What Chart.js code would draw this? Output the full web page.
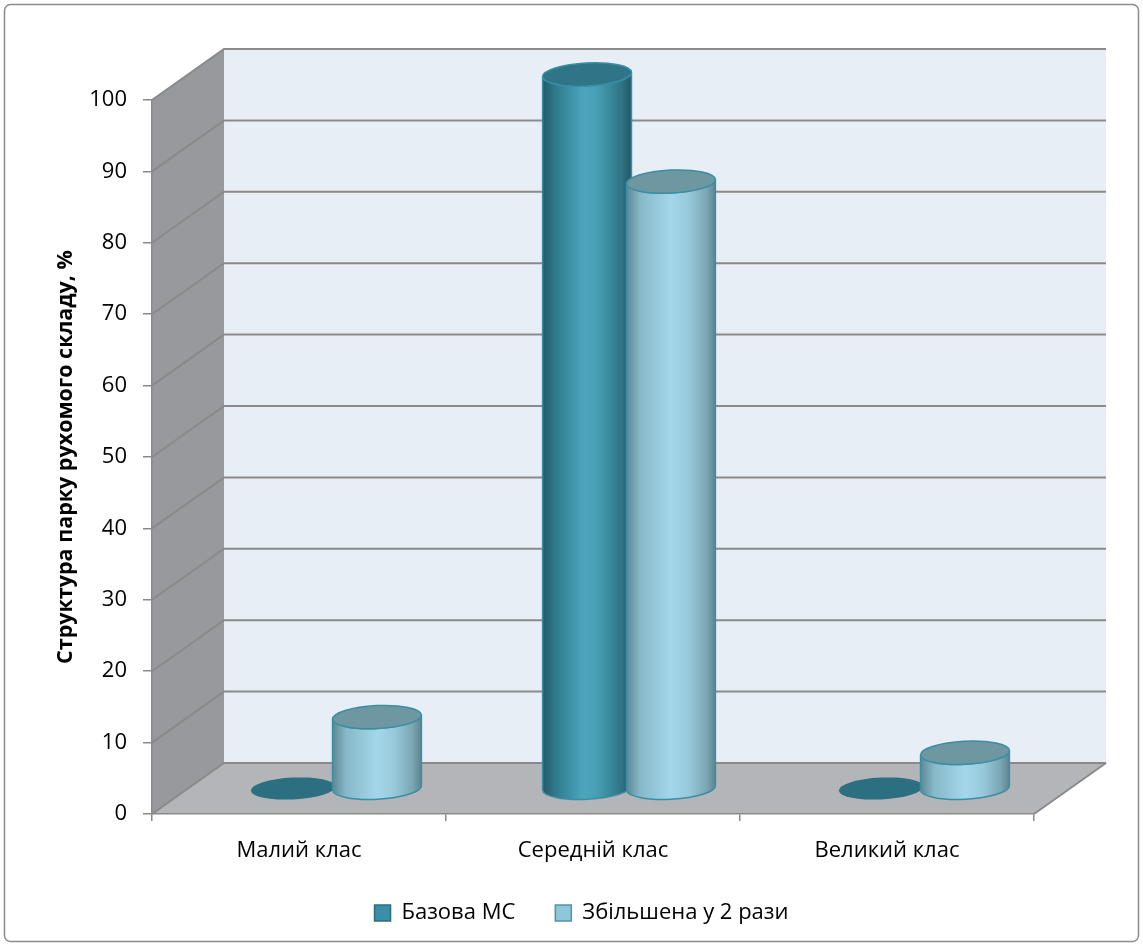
<!DOCTYPE html>
<html>
<head>
<meta charset="utf-8">
<script src="https://cdn.jsdelivr.net/npm/chart.js@4.4.1/dist/chart.umd.min.js"></script>
<style>
  body { margin: 0; background: #fff; }
  #wrap { width: 1143px; height: 946px; }
</style>
</head>
<body>
<div id="wrap"><canvas id="chart" width="1143" height="946"></canvas></div>
<script>
const categories = ['Малий клас', 'Середній клас', 'Великий клас'];
const baseValues = [0, 100, 0];
const doubledValues = [10, 85, 5];
const seriesNames = ['Базова МС', 'Збільшена у 2 рази'];
const yTicks = [0, 10, 20, 30, 40, 50, 60, 70, 80, 90, 100];

const FONT = '"Open Sans", "Noto Sans", sans-serif';
// depth of the 3d box (back wall offset from the front plane)
const depth = { dx: 72, dy: -51 };

const cylStyles = [
    { stops: [[0, '#215a69'], [0.15, '#2f7b8d'], [0.45, '#4aa5bc'], [0.6, '#47a0b6'], [0.88, '#2f7687'], [1, '#225766']],
      top: '#2f7587', flat: '#2c6f80' },
    { stops: [[0, '#5d8793'], [0.15, '#86b8c8'], [0.5, '#a4d7ea'], [0.7, '#98c9db'], [0.9, '#7ba6b3'], [1, '#5c8490']],
      top: '#6f97a2', flat: '#6f97a2' }
];

const box3d = {
    id: 'box3d',
    afterLayout(chart) {
        // legend sits a bit right of the plot centre in the original
        chart.legend.left += 38;
        chart.legend.right += 38;
    },
    beforeDraw(chart) {
        const ctx = chart.ctx;
        const area = chart.chartArea;
        const ys = chart.scales.y;
        const L = area.left, R = area.right;
        const B = ys.getPixelForValue(0), T = ys.getPixelForValue(100);
        const { dx, dy } = depth;

        ctx.save();
        // outer frame
        ctx.strokeStyle = '#8c8c8c';
        ctx.lineWidth = 1.5;
        ctx.beginPath();
        ctx.roundRect(4.5, 4.5, chart.width - 9, chart.height - 9, 6);
        ctx.stroke();

        // side wall
        ctx.fillStyle = '#97999d';
        ctx.beginPath();
        ctx.moveTo(L, T); ctx.lineTo(L + dx, T + dy); ctx.lineTo(L + dx, B + dy); ctx.lineTo(L, B);
        ctx.closePath(); ctx.fill();

        // back wall
        ctx.fillStyle = '#e8eef6';
        ctx.fillRect(L + dx, T + dy, R - L, B - T);

        // floor
        ctx.fillStyle = '#b3b5b8';
        ctx.beginPath();
        ctx.moveTo(L, B); ctx.lineTo(R, B); ctx.lineTo(R + dx, B + dy); ctx.lineTo(L + dx, B + dy);
        ctx.closePath(); ctx.fill();

        // grid lines on side and back walls
        ctx.strokeStyle = '#8a8a8a';
        ctx.lineWidth = 2;
        ys.ticks.forEach(t => {
            const y = ys.getPixelForValue(t.value);
            ctx.beginPath();
            ctx.moveTo(L, y);
            ctx.lineTo(L + dx, y + dy);
            ctx.lineTo(R + dx, y + dy);
            ctx.stroke();
        });
        // floor right edge
        ctx.beginPath();
        ctx.moveTo(R, B); ctx.lineTo(R + dx, B + dy);
        ctx.stroke();
        ctx.restore();
    },
    beforeDatasetDraw() {
        return false; // bars are drawn as cylinders below
    },
    afterDatasetsDraw(chart) {
        const ctx = chart.ctx;
        const hx = depth.dx / 2, hy = depth.dy / 2;
        const rot = -0.05;
        chart.data.datasets.forEach((ds, d) => {
            const meta = chart.getDatasetMeta(d);
            const st = cylStyles[d];
            meta.data.forEach((el, i) => {
                const p = el.getProps(['x', 'y', 'base', 'width'], true);
                const cx = p.x + hx;
                const top = p.y + hy, bot = p.base + hy;
                const rx = p.width * 0.53, ry = 11.5;
                ctx.save();
                if (ds.data[i] === 0) {
                    ctx.fillStyle = st.flat;
                    ctx.beginPath();
                    ctx.ellipse(cx, bot, rx * 0.95, ry * 0.95, rot, 0, Math.PI * 2);
                    ctx.fill();
                    ctx.restore();
                    return;
                }
                const g = ctx.createLinearGradient(cx - rx, 0, cx + rx, 0);
                st.stops.forEach(s => g.addColorStop(s[0], s[1]));
                ctx.fillStyle = g;
                ctx.strokeStyle = '#3a8ea3';
                ctx.lineWidth = 1.5;
                ctx.beginPath();
                ctx.ellipse(cx, bot, rx, ry, rot, Math.PI, 0, true);
                ctx.ellipse(cx, top, rx, ry, rot, 0, Math.PI, false);
                ctx.closePath();
                ctx.fill();
                ctx.stroke();
                ctx.fillStyle = st.top;
                ctx.beginPath();
                ctx.ellipse(cx, top, rx, ry, rot, 0, Math.PI * 2);
                ctx.fill();
                ctx.stroke();
                ctx.restore();
            });
        });
    }
};

const ctx = document.getElementById('chart').getContext('2d');
new Chart(ctx, {
    type: 'bar',
    data: {
        labels: categories,
        datasets: [{
            label: seriesNames[0],
            data: baseValues,
            backgroundColor: '#3a8ea5',
            borderColor: '#2a6f80',
            borderWidth: 1.5
        }, {
            label: seriesNames[1],
            data: doubledValues,
            backgroundColor: '#8fc6d9',
            borderColor: '#4e95a8',
            borderWidth: 1.5
        }]
    },
    options: {
        responsive: false,
        animation: false,
        categoryPercentage: 0.571,
        barPercentage: 1,
        layout: {
            padding: { top: 100, right: 109, left: 53, bottom: 12 }
        },
        plugins: {
            legend: {
                position: 'bottom',
                labels: {
                    boxWidth: 16,
                    boxHeight: 16,
                    padding: 40,
                    color: '#000',
                    font: { family: FONT, size: 22 }
                }
            },
            tooltip: { enabled: false }
        },
        scales: {
            x: {
                grid: { drawOnChartArea: false, offset: true, tickLength: 7, color: '#8a8a8a', lineWidth: 1.5 },
                border: { color: '#8a8a8a', width: 1.5 },
                ticks: { color: '#000', padding: 17, font: { family: FONT, size: 22 } },
                afterFit(scale) { scale.height = 48; }
            },
            y: {
                min: 0,
                max: 100,
                afterBuildTicks(scale) { scale.ticks = yTicks.map(v => ({ value: v })); },
                grid: { drawOnChartArea: false, tickLength: 9, color: '#8a8a8a', lineWidth: 1.5 },
                border: { color: '#8a8a8a', width: 1.5 },
                ticks: { color: '#000', padding: 16, font: { family: FONT, size: 22 } },
                title: {
                    display: true,
                    text: 'Структура парку рухомого складу, %',
                    color: '#000',
                    padding: 0,
                    font: { family: FONT, size: 21.5, weight: 'bold' }
                },
                afterFit(scale) { scale.width = 99; }
            }
        }
    },
    plugins: [box3d]
});
</script>
</body>
</html>
